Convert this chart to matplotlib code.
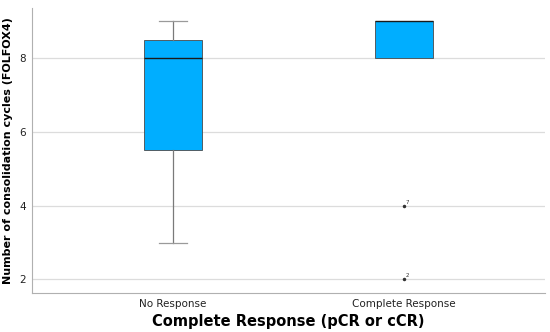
import matplotlib
matplotlib.use("Agg")
import matplotlib.pyplot as plt

# Dados (estatísticas do boxplot)
categorias = ["No Response", "Complete Response"]
minimos = [3, 8]
q1 = [5.5, 8]
medianas = [8, 9]
q3 = [8.5, 9]
maximos = [9, 9]
outliers = [[], [4, 2]]
outlier_ids = [[], ["7", "2"]]

stats = []
for i, nome in enumerate(categorias):
    stats.append({"label": nome, "whislo": minimos[i], "q1": q1[i], "med": medianas[i],
                  "q3": q3[i], "whishi": maximos[i], "fliers": outliers[i]})

fig = plt.figure(figsize=(5.5, 3.32), dpi=100)
ax = fig.add_axes([0.058, 0.1175, 0.933, 0.858])

ax.yaxis.grid(True, color="#dcdcdc", linewidth=0.9)
ax.set_axisbelow(True)

bp = ax.bxp(stats, positions=[0, 1], widths=0.25, patch_artist=True, showfliers=True,
            boxprops=dict(facecolor="#00AEFF", edgecolor="#4a4a4a", linewidth=0.6),
            medianprops=dict(color="#1a1a1a", linewidth=1.0),
            whiskerprops=dict(color="#7a7a7a", linewidth=0.9),
            capprops=dict(color="#9a9a9a", linewidth=0.9),
            capwidths=0.12,
            flierprops=dict(marker="o", markersize=1.5, markerfacecolor="#333333",
                            markeredgecolor="#333333"))

# sem bigodes visíveis quando coincidem com a caixa
for i in range(len(categorias)):
    if minimos[i] == q1[i] and maximos[i] == q3[i]:
        for art in bp["whiskers"][2 * i:2 * i + 2] + bp["caps"][2 * i:2 * i + 2]:
            art.set_visible(False)

for i, vals in enumerate(outliers):
    for v, lab in zip(vals, outlier_ids[i]):
        ax.text(i + 0.008, v + 0.03, lab, fontsize=4, ha="left", va="bottom", color="#333333")

ax.set_xlim(-0.61, 1.61)
ax.set_ylim(1.63, 9.36)
ax.set_yticks([2, 4, 6, 8])
ax.set_xticks([0, 1])
ax.set_xticklabels(categorias)
ax.tick_params(axis="both", length=0, labelsize=7.5, colors="#222222", pad=4)

for lado in ["top", "right"]:
    ax.spines[lado].set_visible(False)
ax.spines["left"].set_color("#b0b0b0")
ax.spines["bottom"].set_color("#b0b0b0")

ax.set_ylabel("Number of consolidation cycles (FOLFOX4)", fontsize=8, fontweight="bold", labelpad=5)
ax.set_xlabel("Complete Response (pCR or cCR)", fontsize=10.5, fontweight="bold", labelpad=4)

fig.savefig("out.png", dpi=100)
